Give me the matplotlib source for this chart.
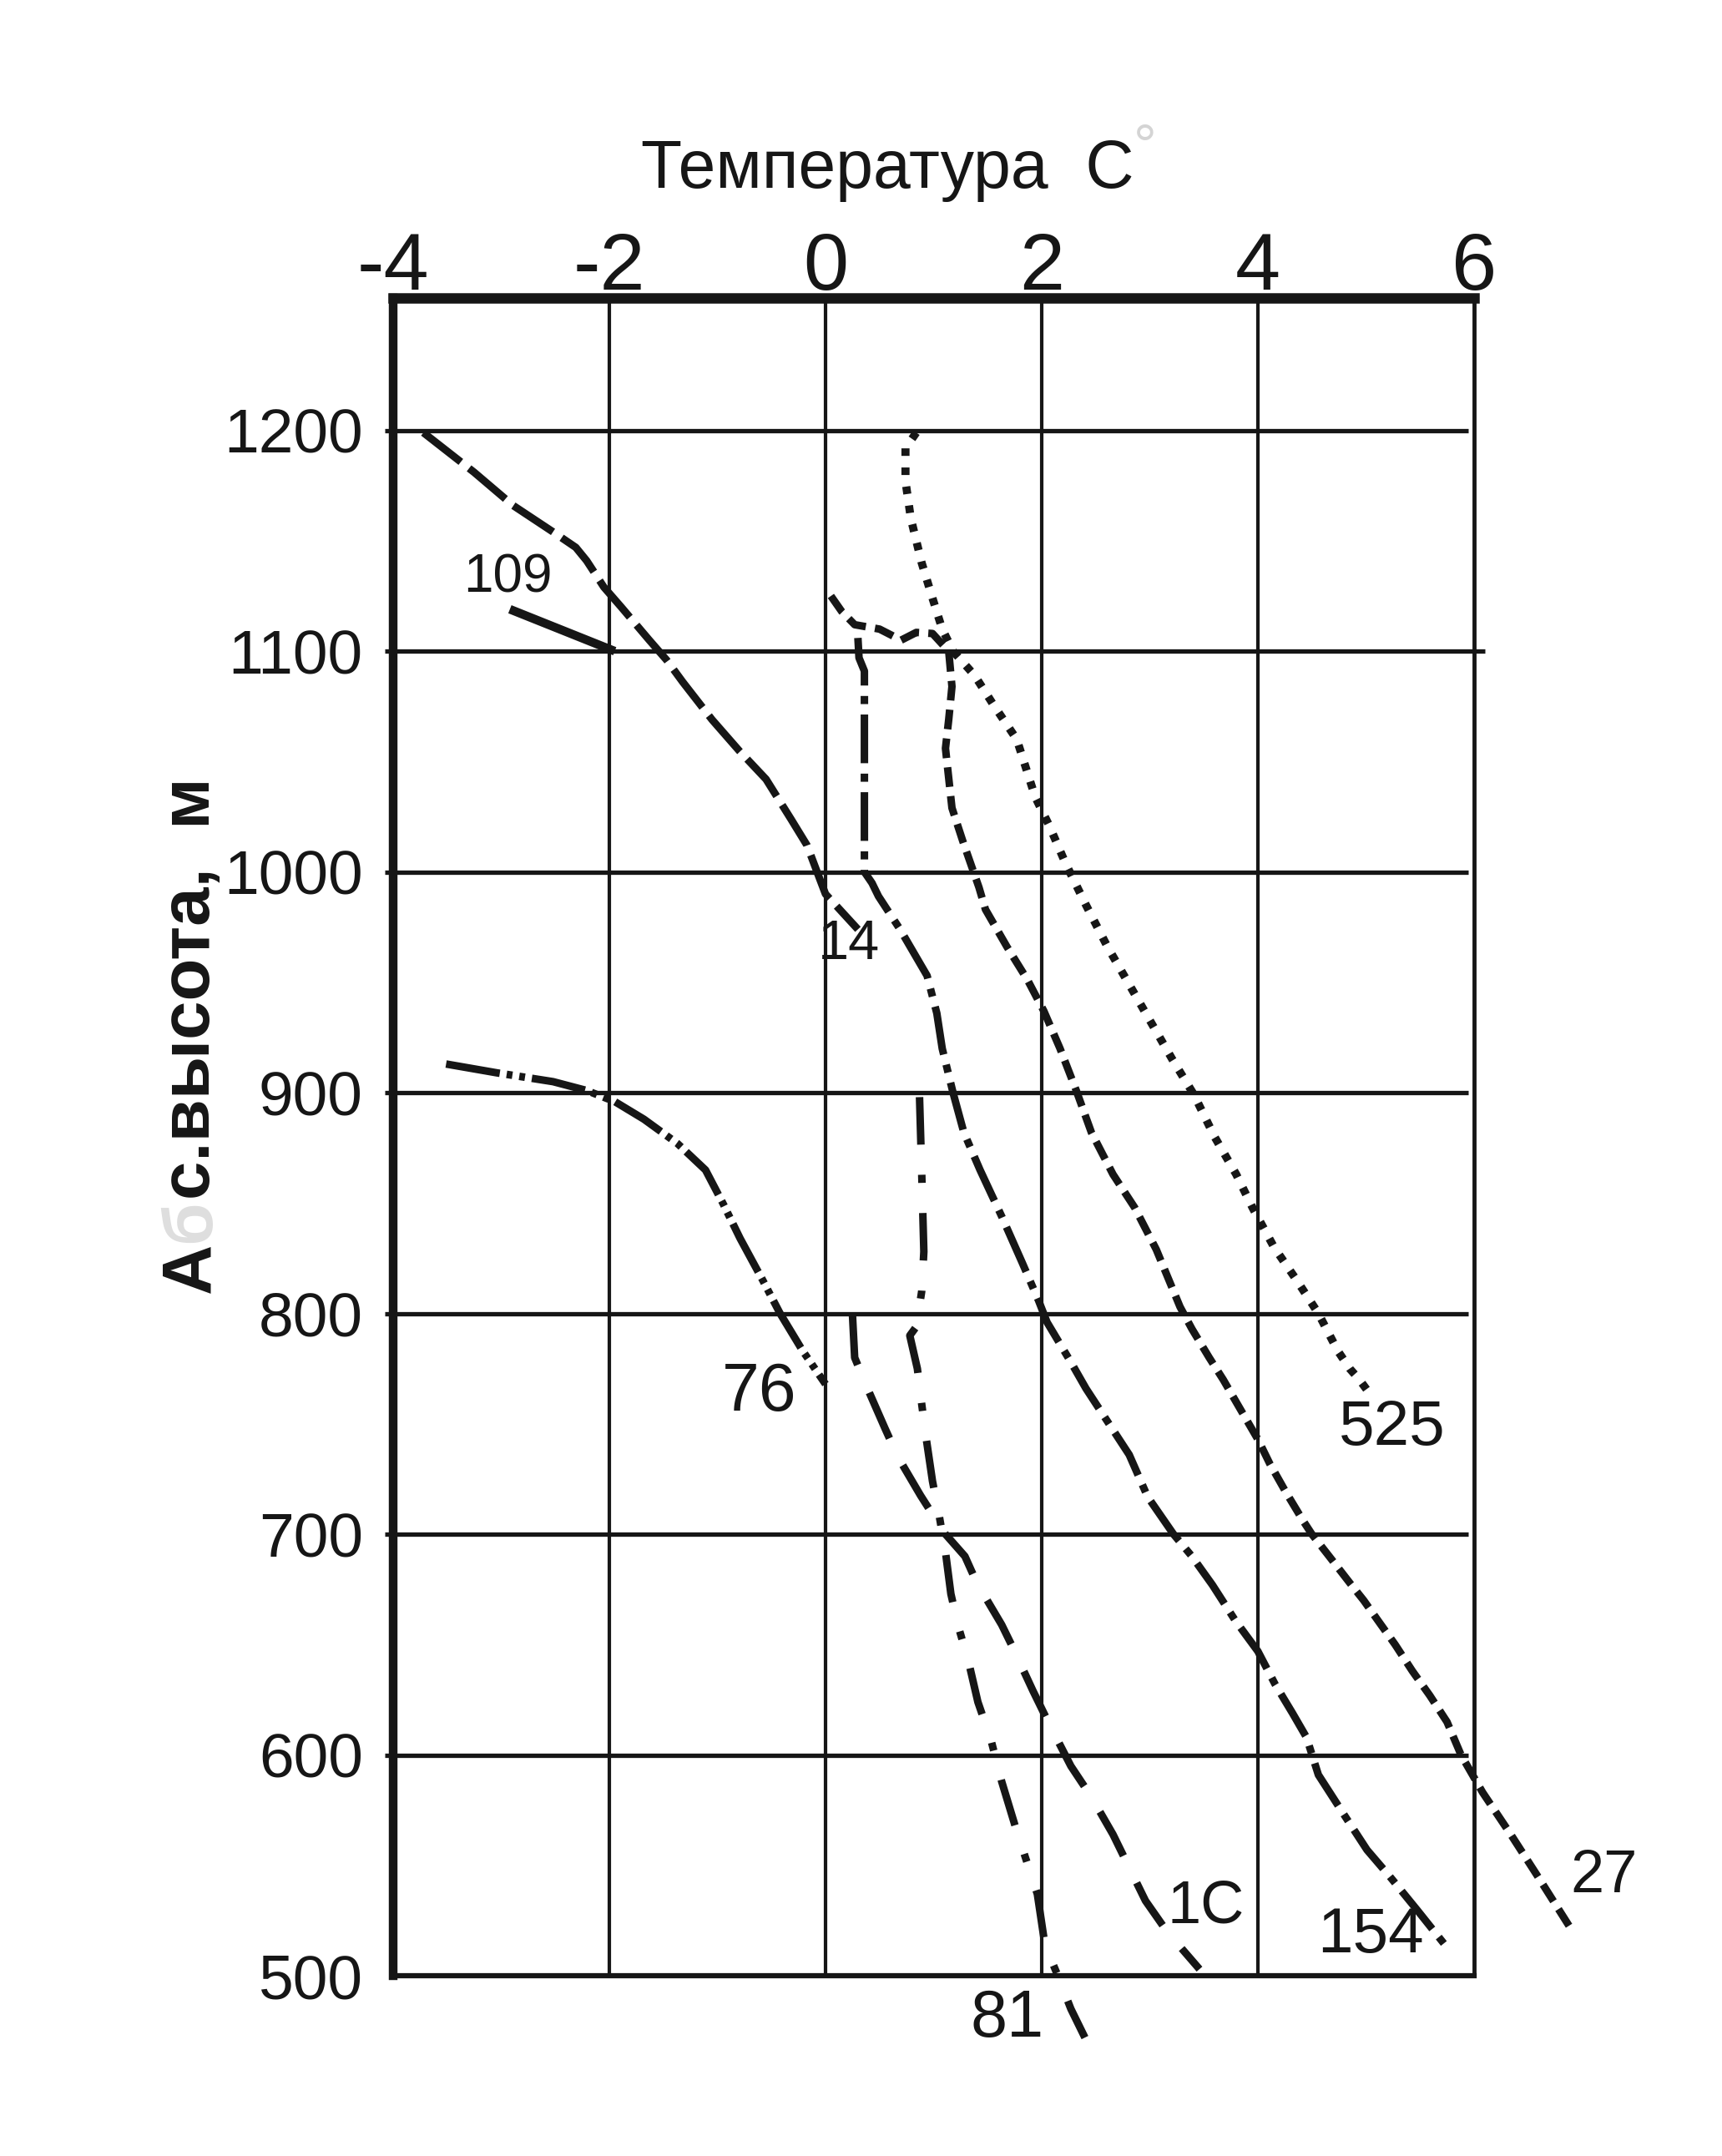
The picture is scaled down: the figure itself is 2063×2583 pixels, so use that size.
import matplotlib
matplotlib.use("Agg")
import matplotlib.pyplot as plt

plt.rcParams["font.family"] = ["Liberation Sans", "DejaVu Sans"]
plt.rcParams["axes.unicode_minus"] = False
plt.rcParams["lines.scale_dashes"] = False

INK = "#161616"

# temperature ticks (top axis) and altitude ticks (left axis)
x_ticks = [-4, -2, 0, 2, 4, 6]
y_ticks = [500, 600, 700, 800, 900, 1000, 1100, 1200]

# profiles: temperature (C) vs absolute altitude (m)
t14 = [-3.72, -3.25, -2.89, -2.52, -2.31, -2.21, -2.05, -1.89, -1.63, -1.47,
       -1.32, -1.05, -0.80, -0.55, -0.32, -0.17, -0.07, 0.0, 0.30]
h14 = [1199, 1181, 1166, 1154, 1147, 1141, 1129, 1120, 1105, 1096,
       1086, 1069, 1055, 1042, 1024, 1012, 999, 990, 974]

t109 = [-2.92, -1.95]
h109 = [1119, 1100]

t27 = [0.05, 0.15, 0.27, 0.50, 0.70, 0.84, 0.99, 1.14, 1.17, 1.14, 1.11, 1.17,
       1.27, 1.42, 1.48, 1.68, 1.87, 2.02, 2.17, 2.32, 2.46, 2.66, 2.86, 3.06,
       3.28, 3.39, 3.55, 3.68, 3.81, 4.00, 4.11, 4.26, 4.42, 4.50, 4.66, 4.85,
       4.98, 5.11, 5.27, 5.43, 5.59, 5.75, 5.88, 6.08, 6.34, 6.59, 6.90]
h27 = [1125, 1118, 1112, 1110, 1105, 1108.5, 1108, 1100, 1084, 1069, 1056, 1029,
       1014, 993, 983, 966, 951, 937, 920, 901, 882, 863, 848, 829,
       803, 793, 780, 770, 759, 743, 732, 719, 706, 700, 690, 678,
       670, 661, 650, 638, 627, 615, 600, 583, 564, 545, 521]

t525 = [0.84, 0.74, 0.74, 0.79, 0.89, 0.99, 1.08, 1.18, 1.38, 1.55, 1.77, 1.94,
        2.07, 2.22, 2.41, 2.61, 2.81, 3.01, 3.21, 3.41, 3.60, 3.80, 3.95, 4.15,
        4.36, 4.56, 4.74, 4.85, 4.94, 5.03]
h525 = [1199, 1192, 1177, 1160, 1140, 1124, 1110, 1100, 1089, 1076, 1060, 1034,
        1021, 1004, 985, 966, 949, 932, 915, 899, 880, 863, 848, 830,
        815, 800, 783, 775, 770, 764]

t154 = [0.30, 0.31, 0.36, 0.36, 0.43, 0.49, 0.69, 0.94, 1.03, 1.08, 1.18, 1.28,
        1.43, 1.63, 1.82, 1.97, 2.05, 2.27, 2.41, 2.65, 2.81, 2.98, 3.22, 3.39,
        3.58, 3.79, 4.00, 4.16, 4.32, 4.45, 4.56, 4.81, 5.01, 5.22, 5.47, 5.78]
h154 = [1106, 1097, 1091, 1000, 995, 989, 974, 953, 936, 920, 900, 882,
        865, 844, 823, 806, 796, 778, 766, 748, 736, 717, 700, 690,
        677, 661, 647, 632, 619, 608, 591, 572, 557, 545, 530, 511]

t76 = [-3.51, -3.04, -2.52, -2.21, -1.95, -1.68, -1.37, -1.11, -0.95, -0.79,
       -0.58, -0.42, -0.21, 0.0]
h76 = [913, 909, 905, 901, 896, 888, 877, 865, 850, 834, 815, 800, 783, 768]

t1c = [0.25, 0.27, 0.38, 0.55, 0.67, 0.88, 1.03, 1.11, 1.29, 1.40, 1.63, 1.74,
       1.92, 2.05, 2.27, 2.46, 2.66, 2.81, 2.96, 3.16, 3.46]
h1c = [799, 780, 767, 748, 735, 717.5, 706, 700, 690, 678, 659, 648,
       629, 616, 595, 581, 564, 549, 534, 520, 503]

t81 = [0.87, 0.89, 0.91, 0.89, 0.84, 0.78, 0.85, 0.89, 0.93, 0.99, 1.05, 1.11,
       1.16, 1.23, 1.32, 1.41, 1.53, 1.63, 1.76, 1.96, 2.03, 2.15, 2.27, 2.40]
h81 = [898, 864, 828, 810, 794, 790, 775, 759, 744, 724, 709, 692,
       673, 658, 643, 624, 607, 588, 567, 537, 514, 500, 485, 472]

# curve labels: text, temperature, altitude, font size
labels = [
    ("109", -2.94, 1133, 46),
    ("14", 0.22, 967, 48),
    ("76", -0.61, 764, 58),
    ("525", 5.24, 748, 55),
    ("27", 7.20, 545, 52),
    ("154", 5.04, 518, 55),
    ("1С", 3.52, 531, 52),
    ("81", 1.68, 480, 57),
]

fig = plt.figure(figsize=(20.63, 25.83), dpi=100)
ax = fig.add_axes([0.2283, 0.0836, 0.6277, 0.7782])
ax.set_xlim(-4, 6)
ax.set_ylim(500, 1260)

# frame
for side, lw in [("left", 7.5), ("top", 9.0), ("right", 3.5), ("bottom", 4.5)]:
    ax.spines[side].set_linewidth(lw)
    ax.spines[side].set_color(INK)

# grid drawn by hand: thin verticals, heavier horizontals with a stub left of the frame
for xv in x_ticks[1:-1]:
    ax.axvline(xv, color=INK, lw=3.0, zorder=1)
for yv in y_ticks[1:]:
    x_end = 6.1 if yv == 1100 else 5.95
    ax.hlines(yv, -4.08, x_end, color=INK, lw=3.8, zorder=1, clip_on=False)

ax.xaxis.tick_top()
ax.set_xticks(x_ticks)
ax.set_yticks(y_ticks)
ax.tick_params(axis="x", length=0, pad=-7, labelsize=70, colors=INK)
ax.tick_params(axis="y", length=0, pad=26, labelsize=54, colors=INK)

common = dict(color=INK, lw=6.5, clip_on=False, zorder=3)
ax.plot(t14, h14, linestyle=(0, (41, 9)), **common)
ax.plot(t109, h109, linestyle="-", solid_capstyle="butt", **{**common, "lw": 7.5})
ax.plot(t27, h27, linestyle=(0, (17, 8)), **common)
ax.plot(t525, h525, linestyle=(0, (6.5, 10)), **{**common, "lw": 7.0})
ax.plot(t154, h154, linestyle=(0, (42, 9, 7, 9)), **common)
ax.plot(t76, h76, linestyle=(0, (47, 6, 5, 6, 5, 6)), **common)
ax.plot(t1c, h1c, linestyle=(0, (43, 26)), **common)
ax.plot(t81, h81, linestyle=(0, (41, 26, 7, 26)), **common)

for text, tx, ty, size in labels:
    ax.text(tx, ty, text, fontsize=size, color=INK, ha="center", va="center",
            clip_on=False)

# axis titles
title = fig.text(0.5153, 0.9129, "Температура  С", fontsize=58, color=INK,
                 ha="center", va="baseline")
ax.annotate("°", xy=(1, 1), xycoords=title, xytext=(0, 14),
            textcoords="offset points", fontsize=50, color="#d4d4d4",
            ha="left", va="top")

p1 = fig.text(0.111, 0.4003, "А", fontsize=60, fontweight="bold", color=INK,
              rotation=90, ha="center", va="bottom")
p2 = ax.annotate("б", xy=(0.5, 1), xycoords=p1, fontsize=60, fontweight="bold",
                 color="#dedede", rotation=90, ha="center", va="bottom")
ax.annotate("с.высота,  м", xy=(0.5, 1), xycoords=p2, fontsize=60,
            fontweight="bold", color=INK, rotation=90, ha="center", va="bottom")

fig.savefig("out.png", dpi=100, facecolor="white")
